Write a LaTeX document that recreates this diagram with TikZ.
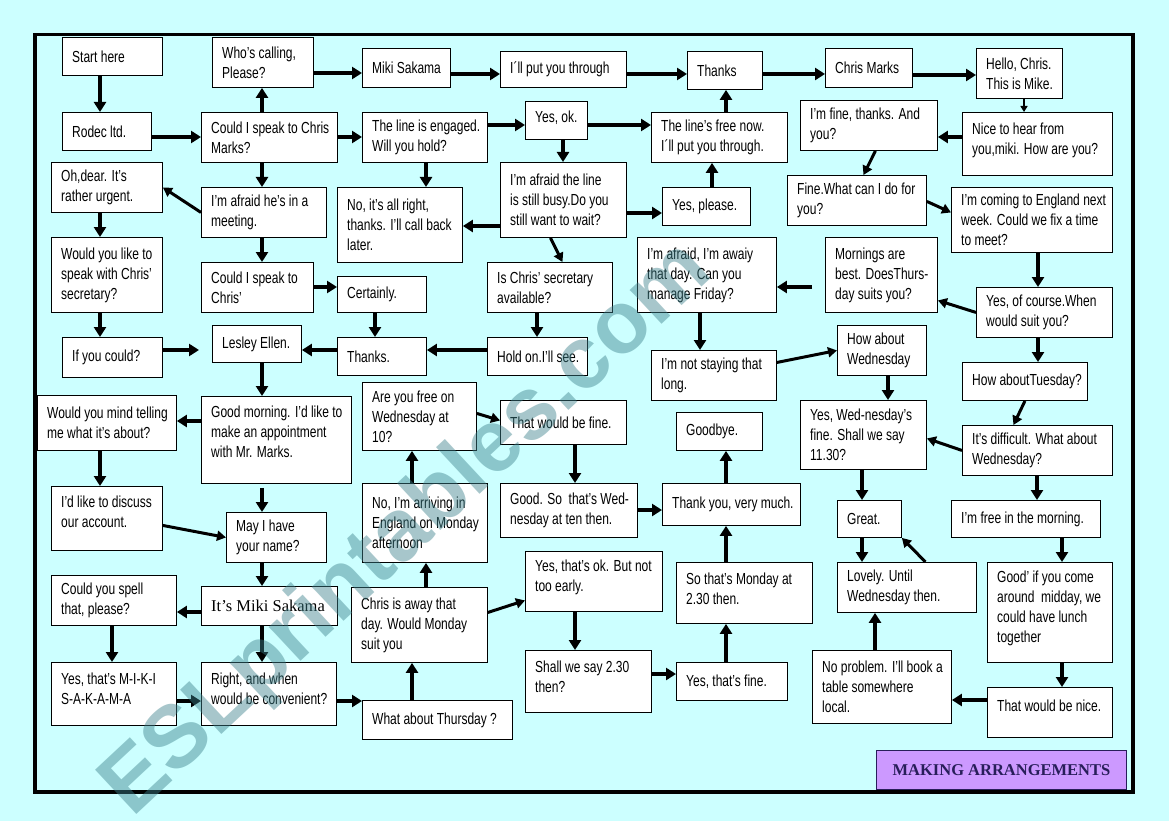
\documentclass[tikz,border=0pt]{standalone}
\usepackage{fontspec}
\setmainfont[FakeStretch=0.75]{Liberation Sans}
\newfontfamily\serifrm{Liberation Serif}
\newfontfamily\wmfont{Liberation Sans}
\usetikzlibrary{arrows.meta}
\definecolor{bgcyan}{RGB}{204,255,255}
\definecolor{titlefill}{RGB}{204,153,255}
\definecolor{titletext}{RGB}{40,30,90}
\definecolor{wmgray}{RGB}{60,130,140}
\tikzset{
  bx/.style={draw=black, line width=0.9pt, fill=white, inner sep=0pt},
  txt/.style={anchor=west, align=left, inner sep=0pt, font=\fontsize{16}{20}\selectfont},
  arr/.style={line width=4.5pt, -{Triangle[length=10pt,width=12pt]}},
  darr/.style={line width=3pt, -{Triangle[length=9pt,width=10pt]}},
  thinarr/.style={line width=2pt, -{Triangle[length=6pt,width=7pt]}},
}
\newcommand\bx[7][0]{%
  \pgfmathsetmacro\bxw{#5-#3}\pgfmathsetmacro\bxh{#6-#4}%
  \node[bx, anchor=north west, minimum width=\bxw pt, minimum height=\bxh pt] (#2) at (#3,#4) {};
  \node[txt, yshift=#1pt] at ([xshift=10pt]#2.west) {#7};}
\newcommand\vdn[4][]{\path (#4,0) coordinate (gx); \draw[arr,#1] (#2.south -| gx) -- (#3.north -| gx);}
\newcommand\vup[4][]{\path (#4,0) coordinate (gx); \draw[arr,#1] (#2.north -| gx) -- (#3.south -| gx);}
\newcommand\hrt[4][]{\path (0,#4) coordinate (gy); \draw[arr,#1] (#2.east |- gy) -- (#3.west |- gy);}
\newcommand\hlt[4][]{\path (0,#4) coordinate (gy); \draw[arr,#1] (#2.west |- gy) -- (#3.east |- gy);}
\begin{document}
\begin{tikzpicture}[x=1pt,y=-1pt]
\fill[bgcyan] (0,0) rectangle (1169,821);
\useasboundingbox (0,0) rectangle (1169,821);
\draw[line width=3.5pt] (35,34.5) rectangle (1133,792);

\bx{start}{62}{37}{162}{75}{Start here}
\bx{rodec}{62}{112}{151}{150}{Rodec ltd.}
\bx{who}{212}{37}{313}{87}{Who’s calling,\\Please?}
\bx{couldm}{201}{112}{337}{162}{Could I speak to Chris\\Marks?}
\bx{ohdear}{51}{162}{162}{212}{Oh,dear. It’s\\rather urgent.}
\bx{meeting}{201}{187}{326}{237}{I’m afraid he’s in a\\meeting.}
\bx{wouldlike}{51}{237}{162}{312}{Would you like to\\speak with Chris’\\secretary?}
\bx{couldc}{201}{262}{313}{312}{Could I speak to\\Chris’}
\bx{miki}{362}{48}{450}{87}{Miki Sakama}
\bx{putthru}{500}{51}{626}{87}{I´ll put you through}
\bx{engaged}{362}{112}{487}{162}{The line is engaged.\\Will you hold?}
\bx[3]{yesok}{525}{101}{587}{139}{Yes, ok.}
\bx{busy}{500}{162}{626}{237}{I’m afraid the line\\is still busy.Do you\\still want to wait?}
\bx{noright}{337}{187}{462}{262}{No, it’s all right,\\thanks. I’ll call back\\later.}
\bx{secr}{487}{262}{612}{312}{Is Chris’ secretary\\available?}
\bx{certainly}{337}{276}{426}{312}{Certainly.}
\bx{thanksA}{687}{51}{762}{89}{Thanks}
\bx{chrism}{825}{48}{912}{87}{Chris Marks}
\bx{free}{651}{112}{787}{162}{The line’s free now.\\I´ll put you through.}
\bx{yesplease}{662}{187}{750}{225}{Yes, please.}
\bx{imfine}{800}{100}{937}{150}{I’m fine, thanks. And\\you?}
\bx{finewhat}{787}{175}{926}{225}{Fine.What can I do for\\you?}
\bx{away}{637}{237}{776}{312}{I’m afraid, I’m awaiy\\that day. Can you\\manage Friday?}
\bx{mornings}{825}{237}{937}{312}{Mornings are\\best. DoesThurs-\\day suits you?}
\bx{hello}{976}{48}{1062}{98}{Hello, Chris.\\This is Mike.}
\bx[4]{nice}{962}{112}{1112}{175}{Nice to hear from\\you,miki. How are you?}
\bx{coming}{951}{187}{1112}{252}{I’m coming to England next\\week. Could we fix a time\\to meet?}
\bx{yescourse}{976}{287}{1112}{337}{Yes, of course.When\\would suit you?}
\bx{tuesday}{962}{362}{1087}{400}{How aboutTuesday?}
\bx{difficult}{962}{425}{1112}{475}{It’s difficult. What about\\Wednesday?}
\bx{freemorn}{951}{500}{1100}{537}{I’m free in the morning.}
\bx{ifcould}{62}{337}{162}{377}{If you could?}
\bx{lesley}{212}{325}{301}{362}{Lesley Ellen.}
\bx{thanksB}{337}{337}{426}{375}{Thanks.}
\bx{holdon}{487}{337}{587}{375}{Hold on.I’ll see.}
\bx[8]{goodmorn}{201}{396}{351}{483}{Good morning. I’d like to\\make an appointment\\with Mr. Marks.}
\bx{mind}{37}{395}{176}{450}{Would you mind telling\\me what it’s about?}
\bx[7]{discuss}{51}{486}{162}{550}{I’d like to discuss\\our account.}
\bx{mayi}{226}{512}{326}{562}{May I have\\your name?}
\bx{itsmiki}{201}{586}{337}{625}{\serifrm\fontsize{16.5}{20}\selectfont It’s Miki Sakama}
\bx{spell}{51}{575}{176}{625}{Could you spell\\that, please?}
\bx[5]{spelled}{51}{662}{176}{725}{Yes, that’s M-I-K-I\\S-A-K-A-M-A}
\bx[5]{right}{201}{662}{336}{725}{Right, and when\\would be convenient?}
\bx{thursday}{362}{700}{512}{739}{What about Thursday ?}
\bx{chrisaway}{351}{587}{487}{662}{Chris is away that\\day. Would Monday\\suit you}
\bx{arriving}{362}{483}{487}{562}{No, I’m arriving in\\England on Monday\\afternoon}
\bx{freewed}{362}{382}{476}{450}{Are you free on\\Wednesday at\\10?}
\bx{wouldfine}{500}{400}{626}{444}{That would be fine.}
\bx{goodso}{500}{483}{637}{537}{Good. So\ \ that’s Wed-\\nesday at ten then.}
\bx[4]{yesok2}{525}{551}{662}{611}{Yes, that’s ok. But not\\too early.}
\bx[5]{shall}{525}{650}{651}{712}{Shall we say 2.30\\then?}
\bx{yesfine}{676}{662}{787}{700}{Yes, that’s fine.}
\bx[4]{monday}{676}{562}{812}{623}{So that’s Monday at\\2.30 then.}
\bx{thankyou}{662}{483}{800}{525}{Thank you, very much.}
\bx{goodbye}{676}{412}{762}{450}{Goodbye.}
\bx{notstay}{651}{350}{776}{400}{I’m not staying that\\long.}
\bx{howwed}{837}{325}{926}{375}{How about\\Wednesday}
\bx{yeswed}{800}{400}{926}{469}{Yes, Wed-nesday’s\\fine. Shall we say\\11.30?}
\bx{great}{837}{500}{901}{537}{Great.}
\bx{lovely}{837}{562}{976}{612}{Lovely. Until\\Wednesday then.}
\bx{noproblem}{812}{650}{951}{723}{No problem. I’ll book a\\table somewhere\\local.}
\bx[4]{goodif}{987}{562}{1112}{662}{Good’ if you come\\around\ \ midday, we\\could have lunch\\together}
\bx[7]{nice2}{987}{687}{1112}{737}{That would be nice.}

\node[draw=titletext, line width=0.9pt, fill=titlefill, anchor=north west, minimum width=250pt, minimum height=39pt, inner sep=0pt, text=titletext, font=\serifrm\bfseries\fontsize{16.5}{18}\selectfont] (title) at (876,750) {MAKING ARRANGEMENTS};

% vertical arrows
\vdn{start}{rodec}{100}
\vup{couldm}{who}{262}
\vdn{couldm}{meeting}{262}
\vdn{meeting}{couldc}{262}
\vdn{ohdear}{wouldlike}{100}
\vdn{wouldlike}{ifcould}{100}
\vdn{engaged}{noright}{426}
\vdn{yesok}{busy}{563}
\vup{free}{thanksA}{726}
\vup{yesplease}{free}{712}
\vdn[thinarr]{hello}{nice}{1024}
\vdn{coming}{yescourse}{1038}
\vdn{yescourse}{tuesday}{1038}
\vdn{difficult}{freemorn}{1037}
\vdn{freemorn}{goodif}{1062}
\vdn{goodif}{nice2}{1062}
\vdn{certainly}{thanksB}{375}
\vdn{secr}{holdon}{537}
\vdn{lesley}{goodmorn}{262}
\vdn{mind}{discuss}{100}
\vdn[shorten <=4pt]{goodmorn}{mayi}{262}
\vdn{mayi}{itsmiki}{262}
\vdn{itsmiki}{right}{262}
\vdn{spell}{spelled}{112}
\vup{thursday}{chrisaway}{412}
\vup{chrisaway}{arriving}{426}
\vup{arriving}{freewed}{412}
\vdn{wouldfine}{goodso}{575}
\vdn{yesok2}{shall}{575}
\vup{yesfine}{monday}{726}
\vup{monday}{thankyou}{726}
\vup{thankyou}{goodbye}{726}
\vdn{away}{notstay}{700}
\vdn{howwed}{yeswed}{888}
\vdn{yeswed}{great}{862}
\vdn{great}{lovely}{862}
\vup{noproblem}{lovely}{875}

% horizontal arrows
\hrt{rodec}{couldm}{137}
\hrt{who}{miki}{73}
\hrt{couldm}{engaged}{137}
\hrt{couldc}{certainly}{287}
\hrt{miki}{putthru}{74}
\hrt{putthru}{thanksA}{74}
\hrt{engaged}{yesok}{125}
\hrt{yesok}{free}{125}
\hlt{busy}{noright}{226}
\hrt{busy}{yesplease}{213}
\hrt{thanksA}{chrism}{74}
\hrt{chrism}{hello}{75}
\hlt{nice}{imfine}{137}
\hlt[shorten <=13pt]{mornings}{away}{287}
\hrt[shorten >=13pt]{ifcould}{lesley}{350}
\hlt{thanksB}{lesley}{350}
\hlt{holdon}{thanksB}{350}
\hlt{goodmorn}{mind}{421}
\hlt{itsmiki}{spell}{612}
\hrt{spelled}{right}{701}
\hrt{right}{thursday}{701}
\hrt{goodso}{thankyou}{510}
\hrt{shall}{yesfine}{674}
\hlt{nice2}{noproblem}{700}

% diagonal arrows
\draw[darr] (meeting.west) -- (ohdear.east);
\draw[darr] ([xshift=-13pt]busy.south) -- ([xshift=12.5pt]secr.north);
\draw[darr] ([xshift=6.5pt]imfine.south) -- ([xshift=6.5pt]finewhat.north);
\draw[darr] ([yshift=-1pt]finewhat.east) -- ([yshift=7.5pt]coming.west);
\draw[darr] (yescourse.west) -- ([yshift=-25.5pt]mornings.east);
\draw[darr] (tuesday.south) -- ([xshift=-24pt]difficult.north);
\draw[darr] (difficult.west) -- ([yshift=-3.5pt]yeswed.east);
\draw[darr] ([yshift=13pt]notstay.east) -- (howwed.west);
\draw[darr] ([yshift=12.5pt]chrisaway.east) -- ([yshift=-19pt]yesok2.west);
\draw[darr] ([yshift=3pt]freewed.east) -- ([yshift=2pt]wouldfine.west);
\draw[darr] ([yshift=-7pt]discuss.east) -- (mayi.west);
\draw[darr] ([xshift=18.5pt]lovely.north) -- (great.south east);

% watermark
\node[rotate=43, text=wmgray, opacity=0.45, inner sep=0pt, font=\wmfont\bfseries\fontsize{88}{88}\selectfont] (wm) at (408,530) {ESLprintables.com};
\end{tikzpicture}
\end{document}
